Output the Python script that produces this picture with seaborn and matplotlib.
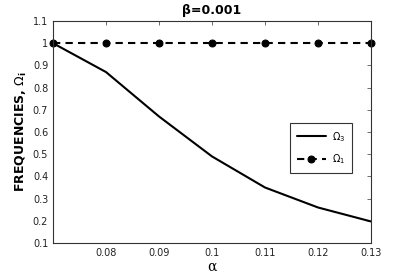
import matplotlib
matplotlib.use("Agg")
import matplotlib.pyplot as plt
import seaborn as sns
import pandas as pd

alpha = [0.07, 0.08, 0.09, 0.10, 0.11, 0.12, 0.13]
omega3 = [1.0, 0.87, 0.67, 0.49, 0.35, 0.26, 0.197]
omega1 = [1.0, 1.0, 1.0, 1.0, 1.0, 1.0, 1.0]
xticks = [0.08, 0.09, 0.1, 0.11, 0.12, 0.13]
xticklabels = ["0.08", "0.09", "0.1", "0.11", "0.12", "0.13"]
yticks = [0.1, 0.2, 0.3, 0.4, 0.5, 0.6, 0.7, 0.8, 0.9, 1.0, 1.1]
yticklabels = ["0.1", "0.2", "0.3", "0.4", "0.5", "0.6", "0.7", "0.8", "0.9", "1", "1.1"]

sns.set_style("white")
plt.rcParams['font.family'] = ['DejaVu Sans']
plt.rcParams['text.color'] = 'black'
plt.rcParams['axes.labelcolor'] = 'black'
plt.rcParams['xtick.color'] = 'black'
plt.rcParams['ytick.color'] = 'black'

df = pd.DataFrame({"alpha": alpha, "omega3": omega3, "omega1": omega1})

fig = plt.figure(figsize=(4.09, 2.73), dpi=100)
ax = fig.add_axes([53/409, 1 - 243/273, (371-53)/409, (243-21)/273])

sns.lineplot(data=df, x="alpha", y="omega3", ax=ax, color="black", lw=1.5,
             label=r"$\Omega_3$")
sns.lineplot(data=df, x="alpha", y="omega1", ax=ax, color="black", lw=1.5,
             linestyle=(0, (3.5, 2.5)), marker="o", markersize=5,
             markeredgecolor="black", label=r"$\Omega_1$", clip_on=False)

ax.set_xlim(0.07, 0.13)
ax.set_ylim(0.1, 1.1)
ax.set_xticks(xticks)
ax.set_xticklabels(xticklabels)
ax.set_yticks(yticks)
ax.set_yticklabels(yticklabels)
ax.tick_params(direction="in", length=3, labelsize=7, top=True, right=True,
               color="#555555", width=0.6, labelcolor="#222222")
for s in ax.spines.values():
    s.set_color("#333333")
    s.set_linewidth(0.8)

ax.set_xlabel("α", fontsize=10, labelpad=1, family="DejaVu Serif")
ax.set_ylabel(r"FREQUENCIES, $\Omega_\mathregular{i}$", fontsize=9, fontweight="bold", labelpad=3)
ax.set_title("β=0.001", fontsize=9, fontweight="bold", pad=5)

leg = ax.legend(loc="upper left", bbox_to_anchor=((290-53)/318, (243-123)/222),
                borderaxespad=0, frameon=True, fancybox=False, edgecolor="black",
                fontsize=7, handlelength=3.0, borderpad=0.7, labelspacing=0.9,
                handletextpad=0.6)
leg.get_frame().set_linewidth(0.8)

fig.savefig("out.png", dpi=100)
